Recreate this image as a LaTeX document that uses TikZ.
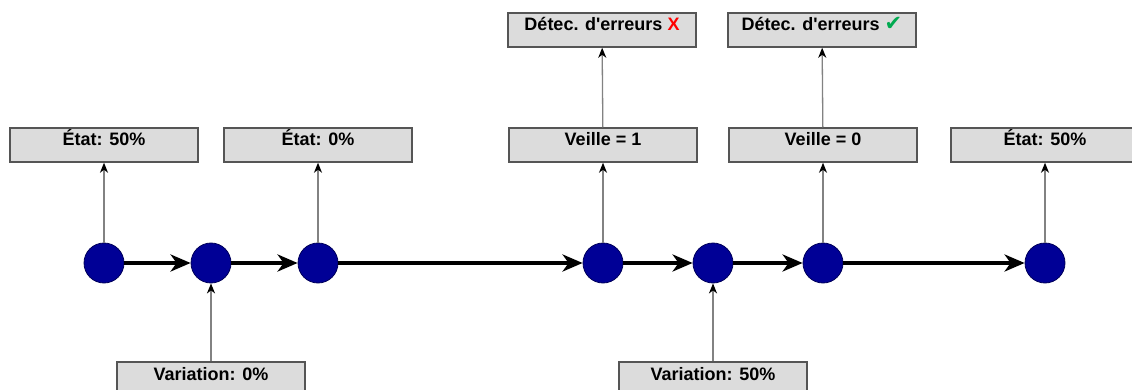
\documentclass[tikz,border=0pt]{standalone}
\usepackage{fontspec}
\setmainfont{Liberation Sans}
\newfontfamily\symfont{DejaVu Sans}
\usetikzlibrary{arrows.meta}
\definecolor{navyfill}{RGB}{0,0,150}
\definecolor{boxfill}{RGB}{220,220,220}
\definecolor{boxdraw}{RGB}{85,85,85}
\definecolor{linegrey}{RGB}{130,130,130}
\definecolor{okgreen}{RGB}{0,170,80}
\definecolor{errred}{RGB}{255,0,0}
\begin{document}
\begin{tikzpicture}[x=1pt,y=-1pt,
  state/.style={circle,fill=navyfill,draw=navyfill!60!black,line width=0.8pt,minimum size=40pt,inner sep=0pt},
  infobox/.style={rectangle,fill=boxfill,draw=boxdraw,line width=1.5pt,minimum width=188pt,minimum height=34pt,inner xsep=0pt,inner ysep=0pt,text height=18pt,text depth=16pt,font=\fontsize{18}{20}\selectfont\bfseries},
  flow/.style={line width=4pt,-{Stealth[length=20pt,width=17pt,inset=6pt]}},
  link/.style={draw=linegrey,line width=1.3pt,-{Stealth[length=10pt,width=8pt,inset=3pt,fill=black,color=black]}}
]
\useasboundingbox (0,0) rectangle (1132,390);
\clip (0,0) rectangle (1132,390);
\fill[white] (0,0) rectangle (1132,390);

\node[state] (c1) at (104,263) {};
\node[state] (c2) at (211,263) {};
\node[state] (c3) at (318,263) {};
\node[state] (c4) at (603,263) {};
\node[state] (c5) at (713,263) {};
\node[state] (c6) at (823,263) {};
\node[state] (c7) at (1045,263) {};

\node[infobox] (e1) at (104,145) {État: 50\%};
\node[infobox] (e2) at (318,145) {État: 0\%};
\node[infobox] (v1) at (603,145) {Veille = 1};
\node[infobox] (v2) at (823,145) {Veille = 0};
\node[infobox] (e3) at (1045,145) {État: 50\%};
\node[infobox] (d1) at (602,30) {Détec. d\textquotesingle erreurs {\color{errred}X}};
\node[infobox] (d2) at (822,30) {Détec. d\textquotesingle erreurs {\symfont\fontsize{21}{20}\selectfont\color{okgreen}✔}};
\node[infobox] (b1) at (211,379) {Variation: 0\%};
\node[infobox] (b2) at (713,379) {Variation: 50\%};

\draw[flow] (c1) -- (c2);
\draw[flow] (c2) -- (c3);
\draw[flow] (c3) -- (c4);
\draw[flow] (c4) -- (c5);
\draw[flow] (c5) -- (c6);
\draw[flow] (c6) -- (c7);

\draw[link] (c1) -- (e1);
\draw[link] (c3) -- (e2);
\draw[link] (c4) -- (v1);
\draw[link] (c6) -- (v2);
\draw[link] (c7) -- (e3);
\draw[link] (v1) -- (d1);
\draw[link] (v2) -- (d2);
\draw[link] (b1) -- (c2);
\draw[link] (b2) -- (c5);
\end{tikzpicture}
\end{document}
